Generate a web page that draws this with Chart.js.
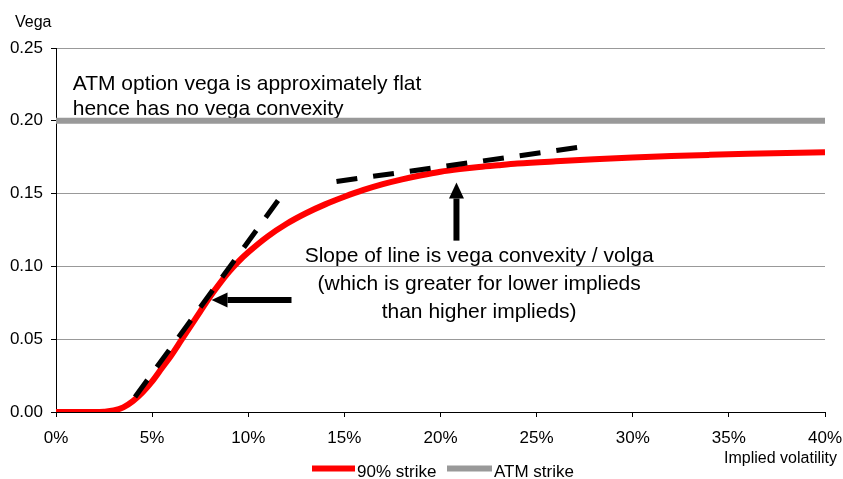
<!DOCTYPE html>
<html lang="en">
<head>
<meta charset="UTF-8">
<title>Vega vs implied volatility</title>
<script src="https://cdn.jsdelivr.net/npm/chart.js"></script>
<style>
  body { margin: 0; background: #fff; }
  canvas { display: block; }
</style>
</head>
<body>
<canvas id="vegaChart" width="843" height="479"></canvas>
<script>
// implied volatility (%) and vega of the 90% strike option
const impliedVols = [0, 1, 2, 2.5, 3, 3.5, 4, 4.5, 5, 5.5, 6, 6.5, 7, 7.5, 8, 8.5, 9, 9.5, 10,
  11, 12, 13, 14, 15, 16, 17, 18, 19, 20, 21, 22, 23, 24,
  26, 28, 30, 32, 34, 36, 38, 40];
const vega90 = [0, 0, 0, 0.0002, 0.001, 0.0032, 0.0075, 0.0135, 0.021, 0.030, 0.039, 0.049, 0.059, 0.069, 0.079, 0.088, 0.0963, 0.1035, 0.1097,
  0.1205, 0.1293, 0.1365, 0.1426, 0.1478, 0.1525, 0.1565, 0.1598, 0.1626, 0.165, 0.1668, 0.1683, 0.1695, 0.1706,
  0.1722, 0.1736, 0.1748, 0.1758, 0.1766, 0.1773, 0.1779, 0.1784];

// ATM vega is flat
const atmVols = [0, 40];
const atmVega = [0.20, 0.20];

// tangents to the 90% strike curve (low and high implieds)
const tangentLowVols = [4.11, 11.64];
const tangentLowVega = [0.0103, 0.1469];
const tangentHighVols = [14.59, 27.32];
const tangentHighVega = [0.1583, 0.182];

const seriesLabels = ['90% strike', 'ATM strike'];

const FONT = '"Liberation Sans", Arial, sans-serif';

function toPoints(xs, ys) {
  return xs.map((v, i) => ({ x: v, y: ys[i] }));
}

function drawArrow(ctx, x1, y1, x2, y2) {
  const ang = Math.atan2(y2 - y1, x2 - x1);
  const headLen = 16, headHalf = 7.5;
  const bx = x2 - headLen * Math.cos(ang);
  const by = y2 - headLen * Math.sin(ang);
  ctx.lineWidth = 6;
  ctx.lineCap = 'butt';
  ctx.beginPath();
  ctx.moveTo(x1, y1);
  ctx.lineTo(bx, by);
  ctx.stroke();
  ctx.beginPath();
  ctx.moveTo(x2, y2);
  ctx.lineTo(bx + headHalf * Math.sin(ang), by - headHalf * Math.cos(ang));
  ctx.lineTo(bx - headHalf * Math.sin(ang), by + headHalf * Math.cos(ang));
  ctx.closePath();
  ctx.fill();
}

// text notes go under the lines, arrows and legend on top
const notes = {
  id: 'notes',
  beforeDatasetsDraw(chart) {
    const { ctx, scales: { x, y } } = chart;
    ctx.save();
    ctx.fillStyle = '#000';
    ctx.font = '21px ' + FONT;
    ctx.textAlign = 'left';
    ctx.textBaseline = 'alphabetic';
    const lx = x.getPixelForValue(0.87);
    ctx.fillText('ATM option vega is approximately flat', lx, y.getPixelForValue(0.2209));
    ctx.fillText('hence has no vega convexity', lx, y.getPixelForValue(0.2042));

    ctx.textAlign = 'center';
    const cx = x.getPixelForValue(22.01);
    ctx.fillText('Slope of line is vega convexity / volga', cx, y.getPixelForValue(0.1028));
    ctx.fillText('(which is greater for lower implieds', cx, y.getPixelForValue(0.0838));
    ctx.fillText('than higher implieds)', cx, y.getPixelForValue(0.0643));
    ctx.restore();
  },
  afterDraw(chart) {
    const { ctx, scales: { x, y } } = chart;
    ctx.save();
    ctx.fillStyle = '#000';
    ctx.strokeStyle = '#000';
    drawArrow(ctx, x.getPixelForValue(12.25), y.getPixelForValue(0.0769),
      x.getPixelForValue(8.09), y.getPixelForValue(0.0769));
    drawArrow(ctx, x.getPixelForValue(20.83), y.getPixelForValue(0.1177),
      x.getPixelForValue(20.83), y.getPixelForValue(0.1576));

    // axis titles
    ctx.font = '16px ' + FONT;
    ctx.textAlign = 'left';
    ctx.fillText('Vega', 15, 27);
    ctx.textAlign = 'right';
    ctx.fillText('Implied volatility', x.right + 12, 463);

    // legend
    const items = [
      { ds: chart.data.datasets[2], x0: 312, x1: 355 },
      { ds: chart.data.datasets[3], x0: 447, x1: 492 }
    ];
    ctx.font = '17px ' + FONT;
    ctx.textAlign = 'left';
    items.forEach(it => {
      ctx.strokeStyle = it.ds.borderColor;
      ctx.lineWidth = 6;
      ctx.beginPath();
      ctx.moveTo(it.x0, 468.5);
      ctx.lineTo(it.x1, 468.5);
      ctx.stroke();
      ctx.fillStyle = '#000';
      ctx.fillText(it.ds.label, it.x1 + 2, 476.5);
    });
    ctx.restore();
  }
};

new Chart(document.getElementById('vegaChart'), {
  type: 'line',
  data: {
    datasets: [
      {
        label: 'tangent low',
        data: toPoints(tangentLowVols, tangentLowVega),
        borderColor: '#000',
        borderWidth: 5,
        borderDash: [21, 16],
        pointRadius: 0,
        fill: false
      },
      {
        label: 'tangent high',
        data: toPoints(tangentHighVols, tangentHighVega),
        borderColor: '#000',
        borderWidth: 5,
        borderDash: [21, 16],
        pointRadius: 0,
        fill: false
      },
      {
        label: seriesLabels[0],
        data: toPoints(impliedVols, vega90),
        borderColor: '#ff0000',
        borderWidth: 6,
        pointRadius: 0,
        cubicInterpolationMode: 'monotone',
        fill: false
      },
      {
        label: seriesLabels[1],
        data: toPoints(atmVols, atmVega),
        borderColor: '#999999',
        borderWidth: 6,
        pointRadius: 0,
        fill: false
      }
    ]
  },
  options: {
    responsive: false,
    animation: false,
    devicePixelRatio: 1,
    layout: { padding: { top: 48, right: 18, bottom: 0, left: 0 } },
    plugins: {
      legend: { display: false },
      tooltip: { enabled: false }
    },
    scales: {
      x: {
        type: 'linear',
        min: 0,
        max: 40,
        afterFit: s => { s.height = 67; s.paddingLeft = 0; s.paddingRight = 0; },
        grid: { drawOnChartArea: false, tickLength: 5, tickColor: '#000' },
        border: { color: '#000', width: 1 },
        ticks: {
          stepSize: 5,
          padding: 11,
          color: '#000',
          font: { family: FONT, size: 17 },
          maxRotation: 0,
          callback: v => v + '%'
        }
      },
      y: {
        min: 0,
        max: 0.25,
        afterFit: s => { s.width = 56; },
        grid: { color: '#999999', lineWidth: 1, tickLength: 5, tickColor: '#000' },
        border: { color: '#000', width: 1 },
        ticks: {
          stepSize: 0.05,
          padding: 8,
          color: '#000',
          font: { family: FONT, size: 17 },
          callback: v => v.toFixed(2)
        }
      }
    }
  },
  plugins: [notes]
});
</script>
</body>
</html>
